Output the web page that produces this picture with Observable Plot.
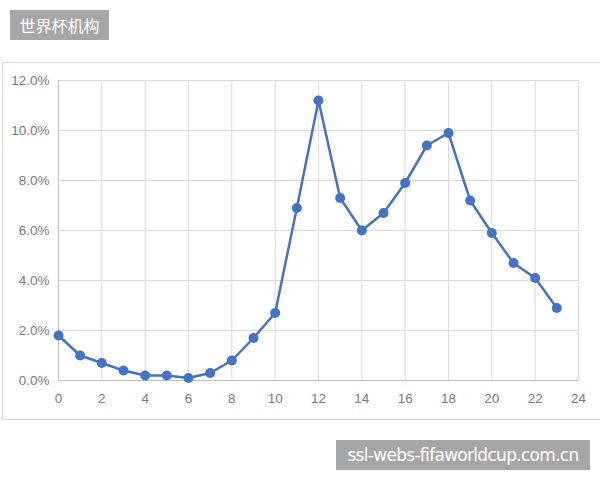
<!DOCTYPE html>
<html>
<head>
<meta charset="utf-8">
<script src="https://cdn.jsdelivr.net/npm/d3@7"></script>
<script src="https://cdn.jsdelivr.net/npm/@observablehq/plot@0.6"></script>
<style>
  html, body { margin: 0; padding: 0; background: #fff; }
  #wrap { position: relative; width: 600px; height: 480px; overflow: hidden; font-family: "Noto Sans CJK SC", "Noto Sans", sans-serif; }
  #frame { position: absolute; left: 2px; top: 62px; width: 600px; height: 358px; border: 1px solid #d9d9d9; box-sizing: border-box; }
  #chart { position: absolute; left: 0; top: 0; }
  .tag { position: absolute; background: #a6a6a6; color: #fff; font-family: "Noto Sans CJK SC", sans-serif; }
  #tag1 { left: 10px; top: 10px; width: 99px; height: 30px; line-height: 30px; font-size: 16px; text-align: center; }
  #tag2 { left: 336px; top: 440px; width: 254px; height: 30px; line-height: 30px; font-size: 17px; text-align: center; font-family: "DejaVu Sans", sans-serif; letter-spacing: -0.7px; }
</style>
</head>
<body>
<div id="wrap">
  <div id="frame"></div>
  <div id="chart"></div>
  <div class="tag" id="tag1">世界杯机构</div>
  <div class="tag" id="tag2">ssl-webs-fifaworldcup.com.cn</div>
</div>
<script>
const hours = [0,1,2,3,4,5,6,7,8,9,10,11,12,13,14,15,16,17,18,19,20,21,22,23];
const shares = [1.8,1.0,0.7,0.4,0.2,0.2,0.1,0.3,0.8,1.7,2.7,6.9,11.2,7.3,6.0,6.7,7.9,9.4,9.9,7.2,5.9,4.7,4.1,2.9];
const xTicks = [0,2,4,6,8,10,12,14,16,18,20,22,24];
const yTicks = [0,2,4,6,8,10,12];

const data = hours.map((h, i) => ({hour: h, share: shares[i]}));
const color = "#4472c4";

const chart = Plot.plot({
  width: 600,
  height: 480,
  marginLeft: 58,
  marginRight: 22,
  marginTop: 80,
  marginBottom: 100,
  style: {background: "transparent", fontFamily: "'Liberation Sans', 'Noto Sans', sans-serif", fontSize: "13.5px", color: "#7a7a7a"},
  x: {domain: [0, 24], ticks: xTicks, tickSize: 0, tickPadding: 13, label: null, tickFormat: d => String(d)},
  y: {domain: [0, 12], ticks: yTicks, tickSize: 0, tickPadding: 9, label: null, tickFormat: d => d.toFixed(1) + "%"},
  marks: [
    Plot.gridX(xTicks, {stroke: "#d9d9d9", strokeOpacity: 1}),
    Plot.gridY(yTicks, {stroke: "#d9d9d9", strokeOpacity: 1}),
    Plot.ruleX([0], {stroke: "#bfbfbf"}),
    Plot.ruleY([0], {stroke: "#bfbfbf"}),
    Plot.line(data, {x: "hour", y: "share", stroke: color, strokeWidth: 2.5}),
    Plot.dot(data, {x: "hour", y: "share", fill: color, r: 5})
  ]
});
document.getElementById("chart").appendChild(chart);
</script>
</body>
</html>
